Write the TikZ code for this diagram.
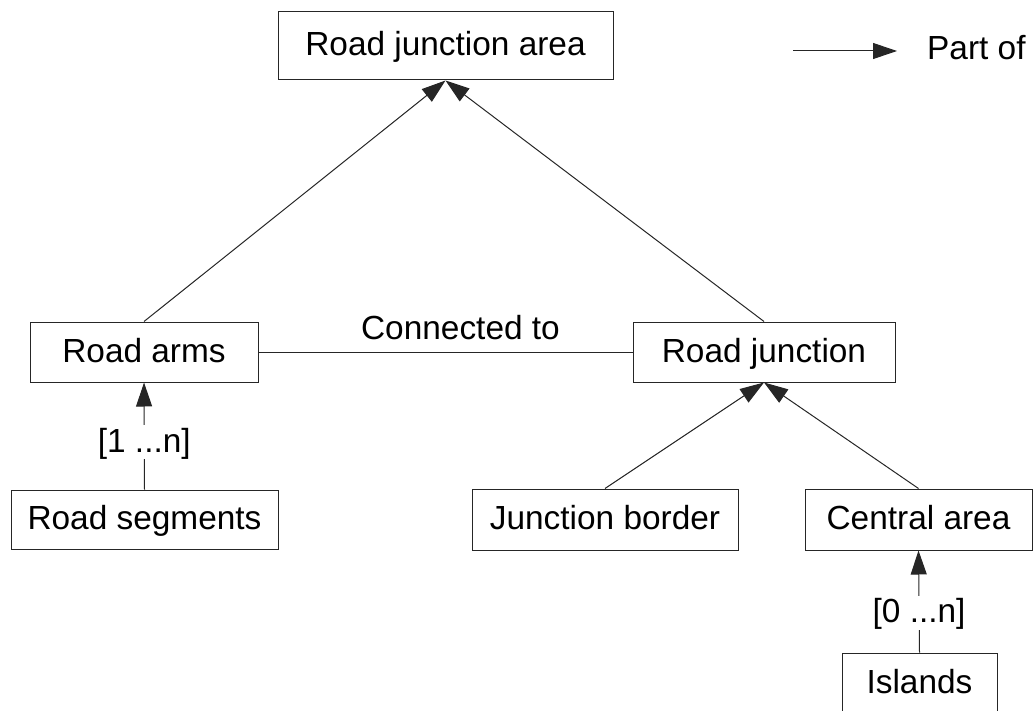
\documentclass[tikz,border=0pt]{standalone}
\usepackage{fontspec}
\setmainfont{Liberation Sans}
\usetikzlibrary{arrows.meta}
\begin{document}
\begin{tikzpicture}[x=1pt,y=-1pt,
  box/.style={draw=black!85, line width=1pt, fill=white, inner sep=0pt, align=center,
    text height=24pt, text depth=4pt, font=\fontsize{33.4}{40}\selectfont},
  conn/.style={draw=black!85, line width=1pt},
  partof/.style={conn, -{Triangle[length=24pt,width=16pt]}},
  lbl/.style={font=\fontsize{33.4}{40}\selectfont, inner sep=2pt, text height=24pt, text depth=4pt}]
\useasboundingbox (0,0) rectangle (1033,711);
\node[box, minimum width=335pt, minimum height=68pt] (area) at (445.5,46) {Road junction area};
\node[box, minimum width=228pt, minimum height=60pt] (arms) at (144,352) {Road arms};
\node[box, minimum width=262pt, minimum height=60pt] (junc) at (764,352) {Road junction};
\node[box, minimum width=267pt, minimum height=59pt] (seg) at (144.5,519.5) {Road segments};
\node[box, minimum width=266pt, minimum height=61pt] (border) at (605,519.5) {Junction border};
\node[box, minimum width=227pt, minimum height=61pt] (central) at (918.5,519.5) {Central area};
\node[box, minimum width=155pt, minimum height=60pt] (islands) at (919.5,683) {Islands};

\draw[partof] (arms.north) -- (area.south);
\draw[partof] (junc.north) -- (area.south);
\draw[partof] (border.north) -- (junc.south);
\draw[partof] (central.north) -- (junc.south);
\draw[partof] (seg.north) -- node[lbl, fill=white, pos=0.44, inner sep=3pt] {[1 ...n]} (arms.south);
\draw[partof] (islands.north) -- node[lbl, fill=white, pos=0.39, inner sep=3pt] {[0 ...n]} (central.south);
\draw[conn] (arms.east) -- node[lbl, pos=0.54, above=6pt] {Connected to} (junc.west);

\coordinate (legs) at (793,51);
\coordinate (lege) at (897,51);
\draw[partof] (legs) -- (lege);
\node[lbl, anchor=west, inner sep=0pt] (legtxt) at (927,50) {Part of};
\end{tikzpicture}
\end{document}
